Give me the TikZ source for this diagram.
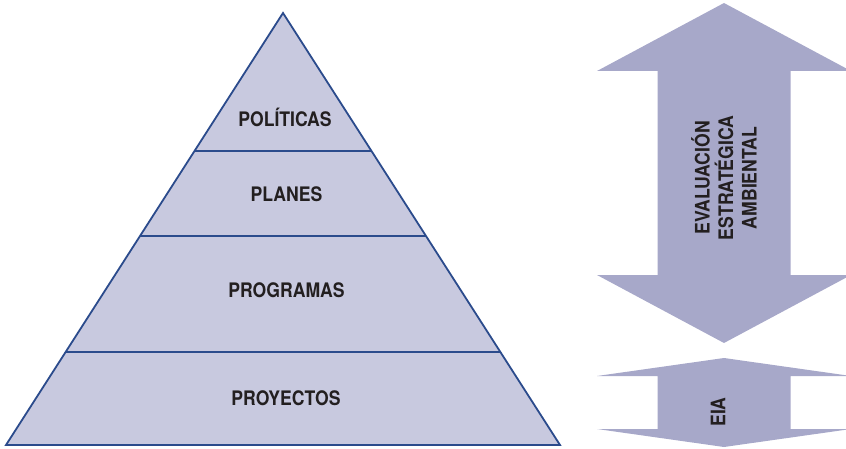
\documentclass[tikz,border=0pt]{standalone}
\usepackage{fontspec}
\setmainfont{TeX Gyre Heros}[FakeStretch=0.88]

\definecolor{LayerFill}{HTML}{C8C9DF}
\definecolor{LayerLine}{HTML}{2B4B8C}
\definecolor{ArrowFill}{HTML}{A7A8C9}
\definecolor{LabelText}{HTML}{231F20}

\tikzset{
  layerlabel/.style={text=LabelText, font=\fontsize{20}{23.5}\selectfont\bfseries, inner sep=0pt},
}

\newcommand{\TwoWayArrow}[4]{% x, y top, y bottom, head length
  \fill[ArrowFill] (#1,#2) -- ({#1+\HeadHalf},{#2-#4}) -- ({#1+\ShaftHalf},{#2-#4})
    -- ({#1+\ShaftHalf},{#3+#4}) -- ({#1+\HeadHalf},{#3+#4}) -- (#1,#3)
    -- ({#1-\HeadHalf},{#3+#4}) -- ({#1-\ShaftHalf},{#3+#4})
    -- ({#1-\ShaftHalf},{#2-#4}) -- ({#1-\HeadHalf},{#2-#4}) -- cycle;
}
\newcommand{\LayerLine}[1]{% y
  \draw[LayerLine, line width=1.8pt] (0,#1) -- (846,#1);
}

\begin{document}
\begin{tikzpicture}[x=1pt, y=1pt]
  \useasboundingbox (0,0) rectangle (846,-449);
  \pgfmathsetmacro{\HeadHalf}{127};
  \pgfmathsetmacro{\ShaftHalf}{66.5};
  %
  \coordinate (apex) at (283,-13);
  \coordinate (baseL) at (6,-445);
  \coordinate (baseR) at (560,-445);
  \fill[LayerFill] (apex) -- (baseR) -- (baseL) -- cycle;
  \begin{scope}
    \clip (apex) -- (baseR) -- (baseL) -- cycle;
    \LayerLine{-151}
    \LayerLine{-236}
    \LayerLine{-352}
  \end{scope}
  \draw[LayerLine, line width=1.8pt, line join=miter] (apex) -- (baseR) -- (baseL) -- cycle;
  %
  \node[layerlabel] (politicas) at (285,-117) {POLÍTICAS};
  \node[layerlabel] (planes) at (286.5,-194.5) {PLANES};
  \node[layerlabel] (programas) at (286.5,-290.5) {PROGRAMAS};
  \node[layerlabel] (proyectos) at (286,-398.5) {PROYECTOS};
  %
  \TwoWayArrow{724}{-3}{-343}{68}
  \TwoWayArrow{724}{-358}{-447}{18}
  %
  \node[layerlabel, rotate=90, align=center] (eae) at (724,-178)
    {EVALUACIÓN\\ESTRATÉGICA\\AMBIENTAL};
  \node[layerlabel, rotate=90] (eia) at (718,-412) {EIA};
\end{tikzpicture}
\end{document}
